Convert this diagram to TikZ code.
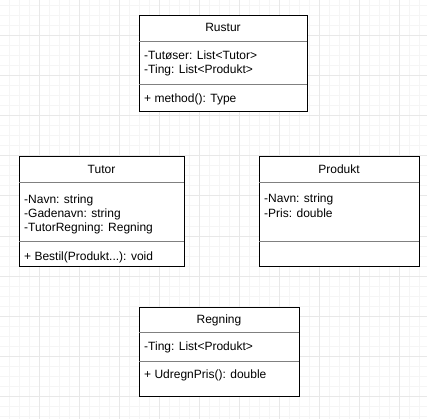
\documentclass[tikz,border=0pt]{standalone}
\usepackage{fontspec}
\setmainfont{Liberation Sans}
\usetikzlibrary{calc, positioning}

\begin{document}
\begin{tikzpicture}[% pixel units, y pointing down
      x = 1pt, y = -1pt,
  minor/.style = {draw=black!4, line width=1pt},
  major/.style = {draw=black!9, line width=1pt},
  class/.style = {draw, line width=1pt, fill=white, anchor=north west,
                  inner sep=0pt, outer sep=0pt,
                  node contents={}},
    sep/.style = {draw=black!50, line width=1pt},
  title/.style = {anchor=base, inner sep=0pt,
                  font=\fontsize{12}{14}\selectfont},
 member/.style = {anchor=base west, align=left, inner sep=0pt,
                  font=\fontsize{12}{14}\selectfont} % base = last line!
                    ]
	\useasboundingbox (0,0) rectangle (427,419);

	% background grid
	\foreach \x in {9,19,...,419} \draw[minor] (\x,0) -- (\x,419);
	\foreach \y in {6,16,...,416} \draw[minor] (0,\y) -- (427,\y);
	\foreach \x in {39,79,...,399} \draw[major] (\x,0) -- (\x,419);
	\foreach \y in {36,76,...,396} \draw[major] (0,\y) -- (427,\y);

	% Rustur
	\node (rustur) at (139,16) [class, minimum width=168, minimum height=96];
	\draw[sep] ($(rustur.north west)+(0,26)$) -- ($(rustur.north east)+(0,26)$);
	\draw[sep] ($(rustur.north west)+(0,69)$) -- ($(rustur.north east)+(0,69)$);
	\node[title] (rustur name) at ($(rustur.north)+(0,16)$) {Rustur};
	\node[member] (rustur attr) at ($(rustur.north west)+(5,58)$)
		{-Tutøser: List<Tutor>\\-Ting: List<Produkt>};
	\node[member] (rustur meth) at ($(rustur.north west)+(5,87)$)
		{+ method(): Type};

	% Tutor
	\node (tutor) at (19,157) [class, minimum width=165, minimum height=109];
	\draw[sep] ($(tutor.north west)+(0,26)$) -- ($(tutor.north east)+(0,26)$);
	\draw[sep] ($(tutor.north west)+(0,84)$) -- ($(tutor.north east)+(0,84)$);
	\node[title] (tutor name) at ($(tutor.north)+(0,17)$) {Tutor};
	\node[member] (tutor attr) at ($(tutor.north west)+(5,74)$)
		{-Navn: string\\-Gadenavn: string\\-TutorRegning: Regning};
	\node[member] (tutor meth) at ($(tutor.north west)+(5,103)$)
		{+ Bestil(Produkt...): void};

	% Produkt
	\node (produkt) at (259,157) [class, minimum width=160, minimum height=109];
	\draw[sep] ($(produkt.north west)+(0,26)$) -- ($(produkt.north east)+(0,26)$);
	\draw[sep] ($(produkt.north west)+(0,84)$) -- ($(produkt.north east)+(0,84)$);
	\node[title] (produkt name) at ($(produkt.north)+(0,17)$) {Produkt};
	\node[member] (produkt attr) at ($(produkt.north west)+(5,60)$)
		{-Navn: string\\-Pris: double};

	% Regning
	\node (regning) at (139,307) [class, minimum width=160, minimum height=89];
	\draw[sep] ($(regning.north west)+(0,25)$) -- ($(regning.north east)+(0,25)$);
	\draw[sep] ($(regning.north west)+(0,54)$) -- ($(regning.north east)+(0,54)$);
	\node[title] (regning name) at ($(regning.north)+(0,16)$) {Regning};
	\node[member] (regning attr) at ($(regning.north west)+(5,43)$)
		{-Ting: List<Produkt>};
	\node[member] (regning meth) at ($(regning.north west)+(5,71)$)
		{+ UdregnPris(): double};
\end{tikzpicture}
\end{document}
